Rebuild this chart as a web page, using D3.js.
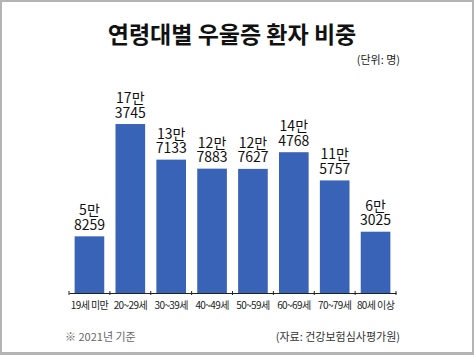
<!DOCTYPE html>
<html>
<head>
<meta charset="utf-8">
<script src="https://cdn.jsdelivr.net/npm/d3@7"></script>
<style>
  body { margin: 0; background: #fff; }
  text { font-family: "Noto Sans CJK KR", "Noto Sans", sans-serif; }
</style>
</head>
<body>
<div id="chart"></div>
<script>
var ageGroups = ["19세 미만", "20~29세", "30~39세", "40~49세", "50~59세", "60~69세", "70~79세", "80세 이상"];
var patients = [58259, 173745, 137133, 127883, 127627, 144768, 115757, 63025];
var manLabels = ["5만", "17만", "13만", "12만", "12만", "14만", "11만", "6만"];
var restLabels = ["8259", "3745", "7133", "7883", "7627", "4768", "5757", "3025"];

var width = 474, height = 355;
var margin = {top: 98.5, right: 78, bottom: 62, left: 69};

var svg = d3.select("#chart")
    .append("svg")
    .attr("width", width)
    .attr("height", height);

// frame
svg.append("rect")
    .attr("width", width).attr("height", height)
    .attr("fill", "#b4b4b4");
svg.append("rect")
    .attr("x", 2).attr("y", 2)
    .attr("width", width - 4).attr("height", height - 5)
    .attr("fill", "#fff");

var xScale = d3.scaleBand()
    .domain(ageGroups)
    .range([margin.left, width - margin.right])
    .paddingInner(0.275)
    .paddingOuter(0.1375);

var yScale = d3.scaleLinear()
    .domain([0, 200000])
    .range([height - margin.bottom, margin.top]);

// title
svg.append("text")
    .attr("x", 232)
    .attr("y", 43)
    .attr("text-anchor", "middle")
    .style("font-size", "23px")
    .style("font-weight", "bold")
    .attr("fill", "#111")
    .text("연령대별 우울증 환자 비중");

svg.append("text")
    .attr("x", 400)
    .attr("y", 64)
    .attr("text-anchor", "end")
    .style("font-size", "11px")
    .attr("fill", "#222")
    .text("(단위: 명)");

// bars
svg.selectAll("rect.bar")
    .data(patients)
    .enter()
    .append("rect")
    .attr("class", "bar")
    .attr("x", function(d, i) { return xScale(ageGroups[i]); })
    .attr("y", function(d) { return yScale(d); })
    .attr("width", xScale.bandwidth())
    .attr("height", function(d) { return yScale(0) - yScale(d); })
    .attr("fill", "#3863b7");

// value labels (two lines each)
var labels = svg.selectAll("text.val")
    .data(patients)
    .enter()
    .append("text")
    .attr("class", "val")
    .attr("text-anchor", "middle")
    .style("font-size", "14px")
    .attr("fill", "#111");

labels.append("tspan")
    .attr("x", function(d, i) { return xScale(ageGroups[i]) + xScale.bandwidth() / 2; })
    .attr("y", function(d) { return yScale(d) - 21; })
    .text(function(d, i) { return manLabels[i]; });

labels.append("tspan")
    .attr("x", function(d, i) { return xScale(ageGroups[i]) + xScale.bandwidth() / 2; })
    .attr("y", function(d) { return yScale(d) - 6.5; })
    .text(function(d, i) { return restLabels[i]; });

// x axis
var xAxis = svg.append("g")
    .attr("class", "x-axis")
    .attr("transform", "translate(0," + (height - margin.bottom) + ")")
    .call(d3.axisBottom(xScale).tickSize(0).tickPadding(9));

xAxis.select(".domain").attr("stroke", "#222").attr("stroke-width", 1.2);
xAxis.selectAll(".tick text")
    .style("font-size", "10px")
    .style("letter-spacing", "-0.6px")
    .attr("fill", "#222");

// small ticks between bands
var edges = ageGroups.map(function(g) { return xScale(g) - xScale.step() * xScale.paddingInner() / 2; });
edges.push(width - margin.right);
xAxis.selectAll("line.edge")
    .data(edges)
    .enter()
    .append("line")
    .attr("class", "edge")
    .attr("x1", function(d) { return d; })
    .attr("x2", function(d) { return d; })
    .attr("y1", -2)
    .attr("y2", 2)
    .attr("stroke", "#222");

// footer
svg.append("text")
    .attr("x", 65)
    .attr("y", 341)
    .style("font-size", "11px")
    .attr("fill", "#666")
    .text("※ 2021년 기준");

svg.append("text")
    .attr("x", 400)
    .attr("y", 341)
    .attr("text-anchor", "end")
    .style("font-size", "11px")
    .attr("fill", "#333")
    .text("(자료: 건강보험심사평가원)");
</script>
</body>
</html>
